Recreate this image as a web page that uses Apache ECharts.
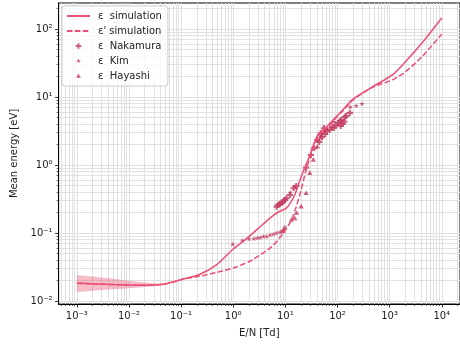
<!DOCTYPE html>
<html>
<head>
<meta charset="utf-8">
<script src="https://cdn.jsdelivr.net/npm/echarts@6/dist/echarts.min.js"></script>
<style>
  html, body { margin: 0; padding: 0; background: #fff; }
  #chart { width: 460px; height: 345px; }
</style>
</head>
<body>
<div id="chart"></div>
<script>
// Mean electron energy vs reduced field E/N

// simulated mean energy ε
const simEN  = [0.001, 0.002, 0.005, 0.01, 0.02, 0.05, 0.1, 0.23, 0.475, 1.0, 1.75, 3.0, 5.5, 7.5, 10.5, 15.1, 20.1, 28.8, 41.2, 63.5, 85, 130, 201, 476, 1130, 2014, 4170, 10000];
const simEps = [0.0182, 0.0179, 0.0174, 0.0171, 0.0170, 0.0178, 0.0206, 0.0247, 0.034, 0.058, 0.081, 0.116, 0.174, 0.205, 0.232, 0.362, 0.673, 1.32, 2.7, 3.7, 4.7, 6.6, 9.4, 14.2, 21.1, 33, 62, 145];

// simulated ε'
const dashEN  = [0.001, 0.002, 0.005, 0.01, 0.02, 0.05, 0.1, 0.23, 0.475, 1.13, 2.32, 5.5, 9.1, 13.1, 16.2, 20.1, 24, 28.8, 41.2, 63.5, 85, 130, 201, 476, 1130, 2014, 4170, 10000];
const dashEps = [0.0182, 0.0179, 0.0174, 0.0171, 0.0170, 0.0178, 0.0205, 0.0232, 0.0262, 0.0315, 0.040, 0.063, 0.099, 0.155, 0.244, 0.43, 0.75, 1.2, 2.6, 3.55, 4.55, 6.4, 9.1, 13.9, 17.8, 23.5, 39, 84];

// spread of ε at low fields
const bandEN    = [0.001, 0.002, 0.005, 0.01, 0.02, 0.035, 0.05];
const bandLower = [0.0134, 0.0141, 0.0149, 0.0154, 0.0160, 0.0167, 0.0174];
const bandUpper = [0.0241, 0.0229, 0.0212, 0.0198, 0.0186, 0.0180, 0.0181];

// measurements
const nakEN  = [6.8, 7.3, 7.9, 8.5, 9.1, 9.8, 10.5, 12.2, 14.4, 16.2, 25, 31, 35.8, 41.2, 44.6, 47.7, 50.8, 55, 57.6, 63, 71, 78, 85, 94, 102, 112, 115, 120, 125, 135, 138, 148, 173];
const nakEps = [0.244, 0.258, 0.267, 0.279, 0.288, 0.305, 0.324, 0.362, 0.454, 0.49, 0.92, 1.40, 1.76, 2.33, 2.18, 2.93, 2.58, 3.47, 2.86, 3.16, 3.27, 3.62, 3.50, 3.87, 4.15, 4.44, 3.75, 4.59, 4.0, 4.34, 5.08, 5.26, 5.83];

const kimEN  = [0.98, 1.5, 2.0, 2.5, 2.9, 3.3, 3.8, 4.4, 5.1, 5.9, 6.8, 7.9, 8.7, 9.5, 9.8, 12.4, 15.1, 55, 85, 176, 228, 295];
const kimEps = [0.068, 0.077, 0.081, 0.082, 0.084, 0.085, 0.088, 0.088, 0.093, 0.096, 0.099, 0.102, 0.107, 0.113, 0.121, 0.39, 0.48, 3.05, 4.3, 7.1, 7.4, 7.9];

const hayEN  = [9.1, 13.1, 15.1, 16.4, 20.1, 25, 29.5, 34.3, 41.2, 48.4, 62.7];
const hayEps = [0.105, 0.155, 0.164, 0.197, 0.244, 0.384, 0.76, 1.19, 1.86, 2.58, 3.38];

// axis decades
const xMajorExp = [-3, -2, -1, 0, 1, 2, 3, 4];
const yMajorExp = [-2, -1, 0, 1, 2];

const LINE = '#eb4f74';
const MARK = '#c2385c';
const GRIDC = '#e0e0e0';
const FONT = 'DejaVu Sans';

const X_MIN = Math.pow(10, -3.35), X_MAX = Math.pow(10, 4.35);
const Y_MIN = Math.pow(10, -2.045), Y_MAX = Math.pow(10, 2.382);

function pairs(xs, ys) { return xs.map((x, i) => [x, ys[i]]); }
function majors(exps) { return exps.map(e => Math.pow(10, e)); }
function minors(lo, hi) {
  const out = [];
  for (let e = lo; e <= hi; e++) for (let k = 2; k <= 9; k++) out.push(k * Math.pow(10, e));
  return out;
}
const SUP = { '-': '\u207b', '0': '\u2070', '1': '\u00b9', '2': '\u00b2', '3': '\u00b3', '4': '\u2074' };
function powLabel(v) {
  const e = String(Math.round(Math.log10(v)));
  return '10' + e.split('').map(c => SUP[c]).join('');
}

// marker shapes; the outer moveTo points pad the box so legend icons stay small
const PLUS = 'path://M-8,-8M8,8M-1.5,-4.5h3v3h3v3h-3v3h-3v-3h-3v-3h3z';
const STAR = 'path://M-8,-8M8,8M0,-4L0.94,-1.29L3.8,-1.24L1.52,0.49L2.35,3.24L0,1.6L-2.35,3.24L-1.52,0.49L-3.8,-1.24L-0.94,-1.29Z';
const TRI  = 'path://M-8,-8M8,8M0,-4L3.8,2.7L-3.8,2.7Z';

function majorAxis(dim, exps, min, max) {
  const isX = dim === 'x';
  return {
    type: 'log', logBase: 10, min: min, max: max,
    gridIndex: 0,
    position: isX ? 'bottom' : 'left',
    name: isX ? 'E/N [Td]' : 'Mean energy [eV]',
    nameLocation: 'middle',
    nameGap: isX ? 24 : 28,
    nameTextStyle: { fontFamily: FONT, fontSize: 10, color: '#222' },
    axisLine: { show: true, onZero: false, lineStyle: { color: '#000', width: 1 } },
    axisTick: { show: true, inside: false, length: 3.5, customValues: majors(exps), lineStyle: { color: '#000', width: 0.8 } },
    axisLabel: { show: true, margin: isX ? 7 : 6, customValues: majors(exps), formatter: powLabel, fontFamily: FONT, fontSize: 10, color: '#222' },
    splitLine: { show: true, lineStyle: { color: GRIDC, width: 1 } },
    minorTick: { show: false },
    axisPointer: { show: false }
  };
}
function minorAxis(dim, lo, hi, min, max) {
  const isX = dim === 'x';
  return {
    type: 'log', logBase: 10, min: min, max: max,
    gridIndex: 0,
    position: isX ? 'bottom' : 'left',
    axisLine: { show: false, onZero: false },
    axisTick: { show: true, inside: false, length: 2, customValues: minors(lo, hi), lineStyle: { color: '#000', width: 0.6 } },
    axisLabel: { show: false },
    splitLine: { show: true, lineStyle: { color: GRIDC, width: 1 } },
    axisPointer: { show: false }
  };
}

// shaded spread drawn as one polygon: upper edge forward, lower edge back
function renderBand(params, api) {
  if (params.dataIndex !== 0) return null;
  const upper = bandEN.map((x, i) => api.coord([x, bandUpper[i]]));
  const lower = bandEN.map((x, i) => api.coord([x, bandLower[i]])).reverse();
  return {
    type: 'polygon',
    shape: { points: upper.concat(lower) },
    style: { fill: 'rgba(235,79,116,0.38)', stroke: 'none' }
  };
}

const chart = echarts.init(document.getElementById('chart'), null, { renderer: 'canvas' });
chart.setOption({
  animation: false,
  backgroundColor: '#fff',
  textStyle: { fontFamily: FONT },
  grid: {
    left: 58.6, top: 3, width: 410.4, height: 301,
    show: true, borderColor: '#000', borderWidth: 1, backgroundColor: 'transparent'
  },
  xAxis: [majorAxis('x', xMajorExp, X_MIN, X_MAX), minorAxis('x', -4, 4, X_MIN, X_MAX)],
  yAxis: [majorAxis('y', yMajorExp, Y_MIN, Y_MAX), minorAxis('y', -3, 2, Y_MIN, Y_MAX)],
  legend: {
    orient: 'vertical', left: 62, top: 6,
    data: [
      { name: 'ε  simulation', itemStyle: { opacity: 0 } },
      { name: "ε' simulation", itemStyle: { opacity: 0 } },
      'ε  Nakamura', 'ε  Kim', 'ε  Hayashi'
    ],
    itemWidth: 23, itemHeight: 10, itemGap: 5,
    padding: [5, 6, 5, 4],
    backgroundColor: 'rgba(255,255,255,0.8)',
    borderColor: '#cccccc', borderWidth: 1, borderRadius: 3,
    textStyle: { fontFamily: FONT, fontSize: 10, color: '#222', lineHeight: 10, padding: [0, 0, 0, 3] }
  },
  series: [
    {
      name: 'spread', type: 'custom', silent: true, renderItem: renderBand,
      encode: { x: 0, y: [1, 2] },
      data: bandEN.map((x, i) => [x, bandLower[i], bandUpper[i]])
    },
    {
      name: 'ε  simulation', type: 'line', symbol: 'none', smooth: 0.25, color: LINE,
      data: pairs(simEN, simEps), lineStyle: { color: LINE, width: 1.5 }
    },
    {
      name: "ε' simulation", type: 'line', symbol: 'none', smooth: 0.25, color: LINE,
      data: pairs(dashEN, dashEps), lineStyle: { color: LINE, width: 1.5, type: [5.5, 2.4] }
    },
    {
      name: 'ε  Nakamura', type: 'scatter', symbol: PLUS, symbolSize: 11, color: MARK,
      data: pairs(nakEN, nakEps), itemStyle: { color: MARK }
    },
    {
      name: 'ε  Kim', type: 'scatter', symbol: STAR, symbolSize: 11, color: MARK,
      data: pairs(kimEN, kimEps), itemStyle: { color: MARK }
    },
    {
      name: 'ε  Hayashi', type: 'scatter', symbol: TRI, symbolSize: 11, color: MARK,
      data: pairs(hayEN, hayEps), itemStyle: { color: MARK }
    }
  ]
});
</script>
</body>
</html>
